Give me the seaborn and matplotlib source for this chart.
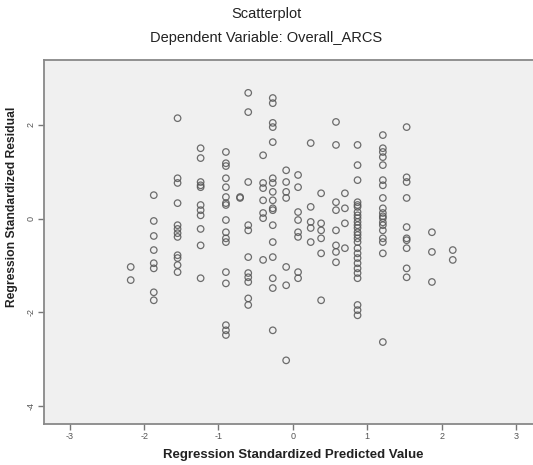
import matplotlib
matplotlib.use("Agg")
import matplotlib.pyplot as plt
import seaborn as sns
import pandas as pd

# Predicted-value columns (discrete) and residuals
col_pred = [-2.18, -1.87, -1.55, -1.24, -0.90, -0.71, -0.60, -0.40, -0.27, -0.09,
            0.07, 0.24, 0.38, 0.58, 0.70, 0.87, 1.21, 1.53, 1.87, 2.15]
col_resid = [
    [-1.03, -1.31],
    [0.50, -0.05, -0.37, -0.67, -0.95, -1.06, -1.57, -1.74],
    [2.14, 0.86, 0.76, 0.33, -0.14, -0.22, -0.31, -0.39, -0.78, -0.84, -0.99, -1.14],
    [1.50, 1.29, 0.78, 0.71, 0.67, 0.29, 0.18, 0.07, -0.22, -0.57, -1.27],
    [1.42, 1.18, 1.12, 0.86, 0.67, 0.46, 0.33, 0.29, -0.03, -0.29, -0.42, -0.50,
     -1.14, -1.38, -2.27, -2.38, -2.48],
    [0.44, 0.46],
    [2.68, 2.27, 0.78, -0.14, -0.25, -0.82, -1.16, -1.25, -1.35, -1.70, -1.84],
    [1.35, 0.76, 0.65, 0.39, 0.12, 0.01, -0.88],
    [2.57, 2.46, 2.04, 1.95, 1.63, 0.86, 0.76, 0.57, 0.39, 0.22, 0.18, -0.14,
     -0.50, -0.82, -1.27, -1.48, -2.38],
    [1.03, 0.78, 0.57, 0.44, -1.03, -1.42, -3.02],
    [0.93, 0.67, 0.14, -0.03, -0.29, -0.39, -1.14, -1.27],
    [1.61, 0.25, -0.07, -0.20, -0.50],
    [0.54, -0.10, -0.25, -0.42, -0.74, -1.74],
    [2.06, 1.57, 0.35, 0.18, -0.25, -0.57, -0.71, -0.93],
    [0.54, 0.22, -0.10, -0.63],
    [1.57, 1.14, 0.82, 0.35, 0.29, 0.25, 0.14, 0.07, 0.01, -0.07, -0.14, -0.20,
     -0.29, -0.35, -0.42, -0.50, -0.63, -0.74, -0.84, -0.95, -1.06, -1.16, -1.27,
     -1.84, -1.95, -2.06],
    [1.78, 1.50, 1.42, 1.31, 1.14, 0.82, 0.71, 0.44, 0.22, 0.12, 0.05, 0.01,
     -0.08, -0.14, -0.25, -0.42, -0.50, -0.74, -2.63],
    [1.95, 0.88, 0.78, 0.44, -0.18, -0.42, -0.46, -0.63, -1.06, -1.25],
    [-0.29, -0.71, -1.35],
    [-0.67, -0.88],
]
x_ticks = [-3, -2, -1, 0, 1, 2, 3]
y_ticks = [-4, -2, 0, 2]

rows = []
for px, ys in zip(col_pred, col_resid):
    for yv in ys:
        rows.append({"pred": px, "resid": yv})
df = pd.DataFrame(rows)

sns.set_theme(style="white")
plt.rcParams['font.family'] = ['Liberation Sans', 'DejaVu Sans']

fig = plt.figure(figsize=(5.33, 4.65), dpi=100)
ax = fig.add_axes([43.7 / 533, 1 - 423.7 / 465, (542 - 43.7) / 533, (423.7 - 60) / 465])
ax.set_facecolor("#f0f0f0")

sns.scatterplot(data=df, x="pred", y="resid", ax=ax, marker="o",
                facecolor="none", edgecolor="#555555", linewidth=0.9, s=22,
                alpha=0.85)

ax.set_xlim(-3.35, 3.35)
ax.set_ylim(-4.37, 3.38)
ax.set_xticks(x_ticks)
ax.set_yticks(y_ticks)
ax.set_xticklabels([str(t) for t in x_ticks], fontsize=6.5, color="#555555")
ax.set_yticklabels([str(t) for t in y_ticks], fontsize=6.5, color="#555555",
                   rotation=90, va="center")
ax.tick_params(axis="both", direction="out", length=4, width=1, color="#777777",
               pad=2, bottom=True, left=True)
for name, sp in ax.spines.items():
    sp.set_color("#888888")
    sp.set_linewidth(1.3)
ax.spines["right"].set_visible(False)

ax.set_xlabel("")
ax.set_ylabel("")
fig.text(293 / 533, 1 - 455 / 465, "Regression Standardized Predicted Value",
         ha="center", va="center", fontsize=9.5, fontweight="bold", color="#222222")
fig.text(12 / 533, 1 - 207 / 465, "Regression Standardized Residual",
         ha="center", va="center", rotation=90, fontsize=8.7, fontweight="bold",
         color="#222222")
fig.text(0.5, 1 - 14 / 465, "Scatterplot", ha="center", va="center",
         fontsize=10.5, color="#222222")
fig.text(0.5, 1 - 38 / 465, "Dependent Variable: Overall_ARCS", ha="center",
         va="center", fontsize=10.5, color="#222222")

fig.savefig("out.png", dpi=100)
